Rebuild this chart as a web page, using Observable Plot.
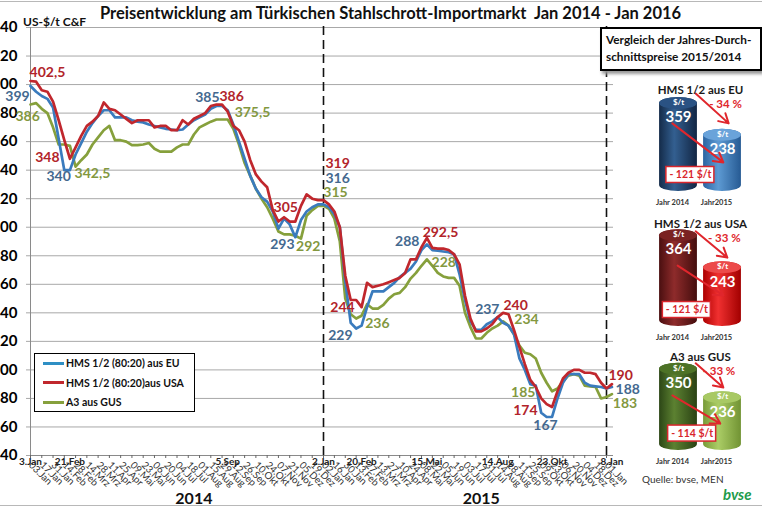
<!DOCTYPE html>
<html><head><meta charset="utf-8">
<script src="https://cdn.jsdelivr.net/npm/d3@7"></script>
<script src="https://cdn.jsdelivr.net/npm/@observablehq/plot@0.6"></script>
<style>
body{margin:0;background:#fff;font-family:Lato,sans-serif;}
#wrap{position:relative;width:762px;height:508px;overflow:hidden;background:#fff;}
.abs{position:absolute;white-space:nowrap;}
#frameTop{position:absolute;left:0;top:1px;width:762px;height:0;border-top:1px solid #b8b8b8;}
#frameBot{position:absolute;left:0;top:505px;width:762px;height:0;border-top:1px solid #b8b8b8;}
#title{left:100px;top:3px;font-weight:700;font-size:16.5px;color:#111;}
#unit{left:23px;top:14px;font-weight:700;font-size:12px;color:#111;}
#box{left:600px;top:27px;width:154px;height:38px;border:2px solid #000;background:#fff;box-shadow:2px 3px 3px #999;font-weight:700;font-size:11.8px;line-height:17px;padding:2px 0 0 4px;color:#111;}
#legend{left:34px;top:353px;width:159px;height:57px;border:1.5px solid #000;background:#fff;}
.lrow{position:absolute;left:8px;height:14px;font-weight:700;font-size:10.5px;color:#111;}
.lrow span.sw{display:inline-block;width:21px;height:3px;vertical-align:middle;margin-right:2px;position:relative;top:-1px;}
#quelle{left:642px;top:473px;font-size:10px;color:#333;}
#bvse{left:723px;top:485px;font-size:15px;font-weight:700;font-style:italic;color:#1e9b4b;}
.panel{position:absolute;left:640px;}
</style></head>
<body>
<div id="wrap"></div>
<script>
// ---------------- data ----------------
const monthsDe = ["Jan","Feb","Mrz","Apr","Mai","Jun","Jul","Aug","Sep","Okt","Nov","Dez"];
const seriesNames = ["HMS 1/2 (80:20) aus EU", "HMS 1/2 (80:20)aus USA", "A3 aus GUS"];
// weekly prices (Fridays) 03.01.2014 ... 08.01.2016, US-$/t C&F
const euValues = [399,395,392,390,384,362,340,340,351,359,367,373,378,382,382,377,377,377,375,374,373.5,372,371,370,369,368.5,368,368.5,372,375,377,379,383,385,385,382,372,360,348,336,327,321,318,311,299,306,302,293,305,311,314,316,316,
  314,309,300,262,233,229,231,244,255,255,255,258,261,265,268,271,276,284,288,284,283.5,283,282.5,281,267,249,234,228,228,232,234,237,233,231,225,208,200,190,189,170,167,167,180,191,197,197,197,191,189,188.5,188,187,188];
const usaValues = [402.5,402,396,395,388,375,361,348,356,364,371,374,378,387.5,383,382,379,376,373,375,375,375,370,371,371,368,368,375,372,376,378,380,385,386,386,381,371,368,360,347,337,332,328,312,304,307,304,304,315,323,320,319,319,
  316,311,300,266,249,249,244,261,258,259,260,261.5,263,264.5,268,277.5,277.5,286,292.5,285.5,285,285,284,281,274,252,236,227,227,229,232,237,240,239,228,216,204,193,188,180,176,174,185,194,198,200,200,198,198,197,191,187,190];
const gusValues = [386,387,383,380,370,358,358,357,342.5,347,351,358,363,368,371,361,361,360,357.5,357.5,358,359,355,353,353,353,356,358,358,365,370,372,374,375.5,375.5,375.5,369,358,345,336,327,320,314,306,297,295,295,294,292,308,312,315,315,
  313,306,290,250,239,236,238,246,243,243,245.5,250,253,254,258,264,268,273,277.5,273,268,265.5,264.5,264.5,259,240,230,222,222,226,229,231,234,231,225,217,212,211,208,198,191,185,187,192,196,197,196,189,188.5,188,180,181,183];
const yTicks = [140,160,180,200,220,240,260,280,300,320,340,360,380,400,420,440];
// highlighted dates (week index) and their labels
const markWeeks = [0,7,35,52,59,71,84,94,105];
const markLabels = ["3.Jan","21.Feb","5.Sep","2.Jan","20.Feb","15.Mai","14.Aug","23.Okt","8.Jan"];
const yearWeeks = [29,81];
const yearNames = ["2014","2015"];
const dividerWeeks = [52,104];
// value annotations: series, label text, anchor week (fractional), anchor value
const annoSeries = ["usa","usa","usa","usa","usa","usa","usa","usa","usa","usa",
  "eu","eu","eu","eu","eu","eu","eu","eu","eu","eu",
  "gus","gus","gus","gus","gus","gus","gus","gus","gus","gus"];
const annoText = ["402,5","348","386","305","319","244","292,5","240","174","190",
  "399","340","385","293","316","229","288","237","167","188",
  "386","342,5","375,5","292","315","236","228","234","185","183"];
const annoWeek = [3.0,3.0,35.7,45.3,54.6,55.5,73.5,87.3,89.1,106.6,
  -2.3,5.0,31.4,44.7,54.6,55.1,67.4,82.1,92.8,107.9,
  -0.5,11.0,39.4,49.3,54.2,61.9,74.1,89.3,88.7,107.4];
const annoValue = [408.4,348.6,391.5,313.5,344.4,244,296.6,245.3,171.6,196.2,
  391.5,335.3,390.8,288.2,333.9,224.3,290.3,242.5,161,186.2,
  377.5,338,380.3,286.8,324,232.7,275.6,235.5,184.2,176.6];
// yearly averages panel
const panelTitles = ["HMS 1/2 aus EU","HMS 1/2 aus USA","A3 aus GUS"];
const avg2014 = [359,364,350];
const avg2015 = [238,243,236];
const pctLabels = ["- 34 %","- 33 %","- 33 %"];
const diffLabels = ["- 121 $/t","- 121 $/t","- 114 $/t"];
const panelYears = ["Jahr 2014","Jahr2015"];

// ---------------- helpers ----------------
const start = Date.UTC(2014,0,3), WEEK = 7*864e5;
const weekDate = w => new Date(start + w*WEEK);
const dates = d3.range(euValues.length).map(weekDate);
const tickDates = dates.filter((d,i) => i % 2 === 0 && i <= 104);
const fmt = d => String(d.getUTCDate()).padStart(2,"0") + "." + monthsDe[d.getUTCMonth()];
const lineColor = {eu:"#3a7bbd", usa:"#c0272d", gus:"#86a03c"};
const labelColor = {eu:"#44698f", usa:"#b2242a", gus:"#83983f"};
const rows = (vals) => vals.map((v,i) => ({date: dates[i], value: v}));
const annos = annoText.map((t,i) => ({s: annoSeries[i], t, w: annoWeek[i], v: annoValue[i]}));
const FONT = "Lato, sans-serif";

const main = Plot.plot({
  width: 762, height: 508,
  marginLeft: 30, marginRight: 149, marginTop: 27, marginBottom: 53,
  style: {fontFamily: FONT, background: "transparent", overflow: "visible"},
  x: {type: "utc", domain: [dates[0], dates[52], dates[104]], range: [30, 323, 606], label: null},
  y: {domain: [140, 440], range: [455, 27], label: null},
  marks: [
    Plot.gridY({ticks: yTicks, stroke: "#a8a8a8", strokeOpacity: 1, insetLeft: -4}),
    Plot.axisY({ticks: yTicks, tickFormat: d => String(d).slice(-2), tickSize: 0, tickPadding: 13,
      fontSize: 15, fontWeight: "bold", fill: "#000"}),
    Plot.ruleX([dates[0]], {y1: 140, y2: 440, stroke: "#8a8a8a"}),
    Plot.ruleY([140], {stroke: "#8a8a8a"}),
    Plot.axisX({ticks: tickDates, tickFormat: fmt, tickRotate: 45, tickSize: 3, tickPadding: 5,
      fontSize: 9.8, fill: "#333", stroke: "#666"}),
    Plot.ruleX(dividerWeeks.map(weekDate), {y1: 140, y2: 441, stroke: "#111", strokeWidth: 1.6, strokeDasharray: "9,5"}),
    Plot.line(rows(gusValues), {x: "date", y: "value", stroke: lineColor.gus, strokeWidth: 2.7}),
    Plot.line(rows(euValues), {x: "date", y: "value", stroke: lineColor.eu, strokeWidth: 2.7}),
    Plot.line(rows(usaValues), {x: "date", y: "value", stroke: lineColor.usa, strokeWidth: 2.7}),
    Plot.text(annos, {x: d => weekDate(d.w), y: "v", text: "t", fill: d => labelColor[d.s],
      fontSize: 14, fontWeight: "bold"}),
    Plot.text(markWeeks, {x: w => weekDate(w), y: () => 140, text: (w,i) => markLabels[i],
      dy: 2, lineAnchor: "top", fontSize: 10, fontWeight: "bold", fill: "#222"}),
    Plot.text(yearWeeks, {x: w => weekDate(w), y: () => 140, text: (w,i) => yearNames[i],
      dy: 43, fontSize: 16, fontWeight: "bold", fill: "#111"})
  ]
});

const wrap = document.getElementById("wrap");
main.style.position = "absolute"; main.style.left = "0px"; main.style.top = "0px";
wrap.appendChild(main);

// ---------------- overlays ----------------
function addDiv(id, html) { const d = document.createElement("div"); d.id = id; d.className = "abs"; d.innerHTML = html; wrap.appendChild(d); return d; }
wrap.insertAdjacentHTML("beforeend", '<div id="frameTop"></div><div id="frameBot"></div>');
addDiv("title", "Preisentwicklung am Türkischen Stahlschrott-Importmarkt&nbsp; Jan 2014 - Jan 2016");
addDiv("unit", "US-$/t C&amp;F");
addDiv("box", "Vergleich der Jahres-Durch-<br>schnittspreise 2015/2014");
const lg = addDiv("legend", "");
["eu","usa","gus"].forEach((k,i) => {
  const r = document.createElement("div"); r.className = "lrow"; r.style.top = (3 + i*19.5) + "px";
  r.innerHTML = `<span class="sw" style="background:${k==="eu"?"#2e8fc4":lineColor[k]}"></span>${seriesNames[i]}`;
  lg.appendChild(r);
});
addDiv("quelle", "Quelle: bvse, MEN");
addDiv("bvse", "bvse");

// ---------------- cylinder panels ----------------
const panelLayout = [
  {top: 70, bottom: 121, k: 0.262, titleDy: 15,
   arrows: [{x1:0.39,y1:374,x2:1.14,y2:260},{x1:-0.14,y1:260,x2:1.02,y2:111}], pct:{x:1.07,y:334}, box:{x:0.27,y:63}},
  {top: 205, bottom: 121, k: 0.266, titleDy: 14,
   arrows: [{x1:0.39,y1:358,x2:1.11,y2:259},{x1:-0.02,y1:229,x2:1.02,y2:117}], pct:{x:1.04,y:330}, box:{x:0.19,y:62}},
  {top: 330, bottom: 120, k: 0.249, titleDy: 22,
   arrows: [{x1:0.39,y1:350,x2:1.02,y2:253},{x1:-0.14,y1:221,x2:0.95,y2:108}], pct:{x:0.92,y:320}, box:{x:0.31,y:68}}
];
const grad = [
  [["#142b49","#335f90","#122644"],["#2b64a2","#5d9ad3","#265a93"]],
  [["#4a0f10","#8e2b2b","#440d0d"],["#ad0000","#f03030","#a20000"]],
  [["#2c4616","#5c8131","#2a4214"],["#789b38","#abcd66","#719333"]]
];
const capColor = [["#2a5283","#6aa3da"],["#7a2222","#ec4a4a"],["#4d7226","#a8c964"]];

panelLayout.forEach((p, i) => {
  const k = p.k, e = 6 / k, hw = 0.43;
  const vals = [avg2014[i], avg2015[i]];
  const marks = [];
  [0,1].forEach(j => {
    const d = [{x1: j - hw, x2: j + hw, v: vals[j]}];
    marks.push(Plot.rect(d, {x1: "x1", x2: "x2", y1: () => 0, y2: "v", fill: `url(#g${i}${j})`, rx: 19, ry: 6}));
    marks.push(Plot.rect(d, {x1: "x1", x2: "x2", y1: r => r.v - 2*e, y2: "v", fill: capColor[i][j], rx: 19, ry: 6}));
    marks.push(Plot.text(d, {x: () => j, y: "v", text: () => "$/t", dy: 5, fill: "#fff", fontSize: 8, fontWeight: "bold"}));
    marks.push(Plot.text(d, {x: () => j, y: "v", text: r => String(r.v), dy: 20, fill: "#fff", fontSize: 15, fontWeight: "bold"}));
  });
  marks.push(Plot.arrow(p.arrows, {x1: "x1", y1: "y1", x2: "x2", y2: "y2", stroke: "#e0262c", strokeWidth: 2, headLength: 8}));
  marks.push(Plot.text([p.pct], {x: "x", y: "y", text: () => pctLabels[i], fill: "#e0262c", fontSize: 11.5, fontWeight: "bold"}));
  marks.push(Plot.rect([p.box], {x1: b => b.x - 24/44, x2: b => b.x + 24/44, y1: b => b.y - 8/k, y2: b => b.y + 8/k,
    fill: "#fff", stroke: "#d9262c", strokeWidth: 1.5}));
  marks.push(Plot.text([p.box], {x: "x", y: "y", text: () => diffLabels[i], fill: "#d9262c", fontSize: 10.5, fontWeight: "bold"}));
  marks.push(Plot.text(panelYears, {x: (d,j) => j, y: () => 0, text: d => d, dy: 11, dx: -6, fontSize: 7.5, fontWeight: "bold", fill: "#333"}));
  marks.push(Plot.text([panelTitles[i]], {x: () => 0.5, text: d => d, frameAnchor: "top", dy: p.titleDy, fontSize: 11.5, fontWeight: "bold", fill: "#1a1a1a"}));
  const svg = Plot.plot({
    width: 122, height: 140, marginTop: 0, marginBottom: 0, marginLeft: 0, marginRight: 0,
    style: {fontFamily: FONT, background: "transparent", overflow: "visible"},
    x: {domain: [0, 1], range: [38, 82], axis: null},
    y: {domain: [0, 100], range: [p.bottom, p.bottom - 100 * k], axis: null},
    marks
  });
  const defs = d3.select(svg).insert("defs", ":first-child");
  [0,1].forEach(j => {
    const g = defs.append("linearGradient").attr("id", `g${i}${j}`).attr("x1", "0").attr("x2", "1").attr("y1", "0").attr("y2", "0");
    g.append("stop").attr("offset", "0").attr("stop-color", grad[i][j][0]);
    g.append("stop").attr("offset", "0.4").attr("stop-color", grad[i][j][1]);
    g.append("stop").attr("offset", "1").attr("stop-color", grad[i][j][2]);
  });
  svg.classList.add("panel");
  svg.style.top = p.top + "px";
  svg.style.position = "absolute"; svg.style.left = "640px";
  wrap.appendChild(svg);
});
</script>
</body></html>
